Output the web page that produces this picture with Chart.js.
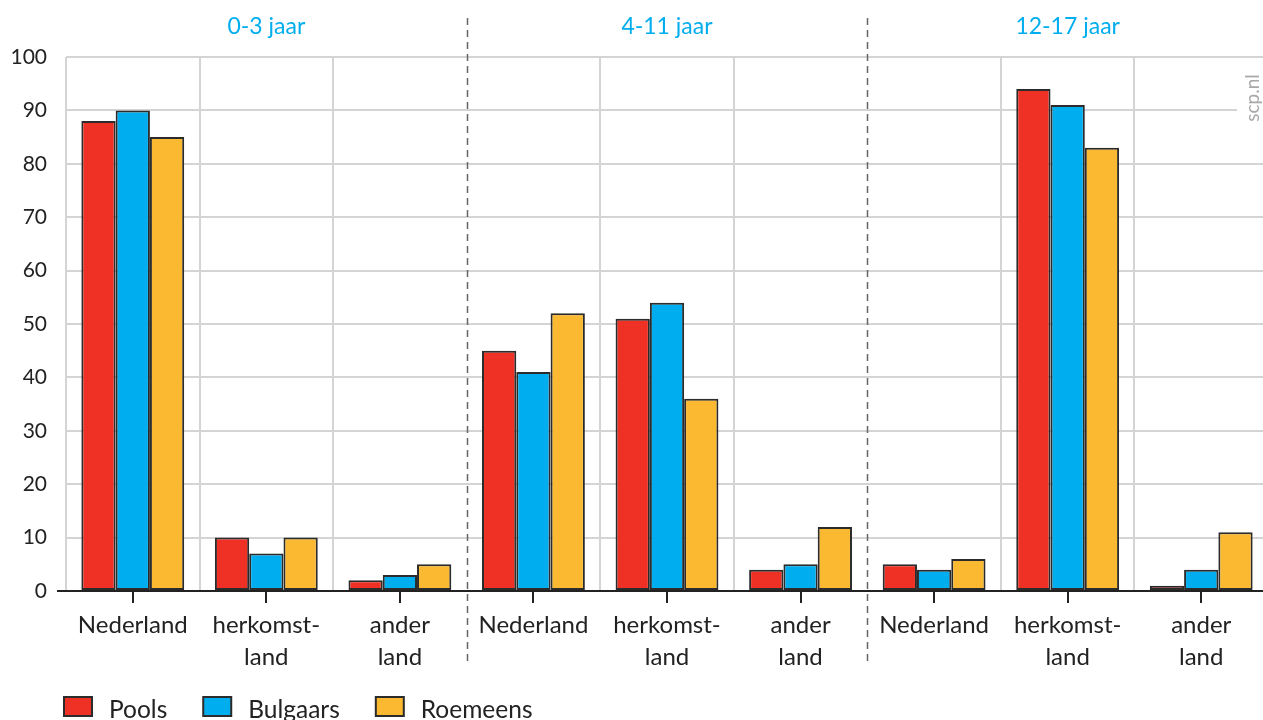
<!DOCTYPE html>
<html>
<head>
<meta charset="utf-8">
<script src="https://cdn.jsdelivr.net/npm/chart.js@4.4.1/dist/chart.umd.min.js"></script>
<style>
  html, body { margin: 0; padding: 0; background: #fff; overflow: hidden; }
  #wrap { width: 1272px; height: 720px; }
</style>
</head>
<body>
<div id="wrap"><canvas id="chart-canvas"></canvas></div>
<script>
const GROUPS = ["0-3 jaar", "4-11 jaar", "12-17 jaar"];
const LABELS = [
    "Nederland", ["herkomst-", "land"], ["ander", "land"],
    "Nederland", ["herkomst-", "land"], ["ander", "land"],
    "Nederland", ["herkomst-", "land"], ["ander", "land"]
];
const POOLS    = [88, 10, 2, 45, 51, 4, 5, 94, 1];
const BULGAARS = [90, 7, 3, 41, 54, 5, 4, 91, 4];
const ROEMEENS = [85, 10, 5, 52, 36, 12, 6, 83, 11];
const Y_TICKS  = [0, 10, 20, 30, 40, 50, 60, 70, 80, 90, 100];

const FONT = "Lato";
const TEXT = "#222222";
const GRID = "#d4d4d4";
const EDGE = "#2b2b2b";

// group titles, dashed separators, tick marks, axis line, legend and the scp.nl mark
const extras = {
    id: "extras",
    afterDraw(chart) {
        const c = chart.ctx;
        const x = chart.scales.x;
        const area = chart.chartArea;
        const per = LABELS.length / GROUPS.length;
        const half = (x.getPixelForValue(1) - x.getPixelForValue(0)) / 2;

        c.save();
        // axis line
        c.strokeStyle = TEXT;
        c.lineWidth = 2;
        c.beginPath();
        c.moveTo(area.left - 9, area.bottom);
        c.lineTo(area.right, area.bottom);
        c.stroke();

        // tick marks under each category
        for (let i = 0; i < LABELS.length; i++) {
            const px = Math.round(x.getPixelForValue(i));
            c.beginPath();
            c.moveTo(px, area.bottom);
            c.lineTo(px, area.bottom + 12);
            c.stroke();
        }

        // dashed separators between age groups
        c.strokeStyle = "#666";
        c.lineWidth = 1.5;
        c.setLineDash([7, 5]);
        for (let g = 1; g < GROUPS.length; g++) {
            const px = Math.round(x.getPixelForValue(g * per) - half) + 0.5;
            c.beginPath();
            c.moveTo(px, 18);
            c.lineTo(px, 666);
            c.stroke();
        }
        c.setLineDash([]);

        // group titles
        c.fillStyle = "#00aeef";
        c.font = "23px " + FONT;
        c.textAlign = "center";
        c.textBaseline = "middle";
        GROUPS.forEach(function (name, g) {
            const a = x.getPixelForValue(g * per) - half;
            const b = x.getPixelForValue(g * per + per - 1) + half;
            c.fillText(name, (a + b) / 2, 27);
        });

        // legend
        c.font = "24.5px " + FONT;
        c.textAlign = "left";
        c.textBaseline = "alphabetic";
        let lx = 64;
        chart.data.datasets.forEach(function (ds) {
            c.fillStyle = ds.backgroundColor;
            c.fillRect(lx, 697, 28, 19);
            c.strokeStyle = EDGE;
            c.lineWidth = 2;
            c.strokeRect(lx, 697, 28, 19);
            c.fillStyle = TEXT;
            c.fillText(ds.label, lx + 45, 718);
            lx += 45 + c.measureText(ds.label).width + 36;
        });

        // scp.nl
        c.fillStyle = "#fff";
        c.fillRect(1237, 64, 30, 70);
        c.translate(1253, 98);
        c.rotate(-Math.PI / 2);
        c.fillStyle = "#a8a8a8";
        c.font = "19px " + FONT;
        c.textAlign = "center";
        c.textBaseline = "middle";
        c.fillText("scp.nl", 0, 0);
        c.restore();
    }
};

const context = document.getElementById("chart-canvas").getContext("2d");
const chart = new Chart(context, {
    type: "bar",
    data: {
        labels: LABELS,
        datasets: [{
            label: "Pools",
            data: POOLS,
            backgroundColor: "#ee3124"
        }, {
            label: "Bulgaars",
            data: BULGAARS,
            backgroundColor: "#00aeef"
        }, {
            label: "Roemeens",
            data: ROEMEENS,
            backgroundColor: "#fbb931"
        }]
    },
    options: {
        responsive: true,
        maintainAspectRatio: false,
        animation: false,
        devicePixelRatio: 1,
        datasets: {
            bar: {
                borderColor: EDGE,
                borderWidth: 2,
                borderSkipped: false,
                categoryPercentage: 0.77,
                barPercentage: 1
            }
        },
        layout: {
            padding: {top: 57, left: 0, right: 4, bottom: 0}
        },
        scales: {
            x: {
                grid: {
                    offset: true,
                    drawTicks: false,
                    lineWidth: 2,
                    color: function (ctx) {
                        return (ctx.index === 3 || ctx.index === 6) ? "rgba(0,0,0,0)" : GRID;
                    }
                },
                border: {display: false},
                ticks: {
                    color: TEXT,
                    padding: 18,
                    maxRotation: 0,
                    autoSkip: false,
                    font: {family: FONT, size: 24, lineHeight: 1.33}
                },
                afterFit: function (scale) { scale.height = 129; }
            },
            y: {
                min: 0,
                max: 100,
                afterBuildTicks: function (scale) {
                    scale.ticks = Y_TICKS.map(function (v) { return {value: v}; });
                },
                grid: {
                    drawTicks: false,
                    lineWidth: 2,
                    color: function (ctx) {
                        return ctx.tick && ctx.tick.value === 0 ? "rgba(0,0,0,0)" : GRID;
                    }
                },
                border: {display: false},
                ticks: {
                    color: TEXT,
                    padding: 19,
                    font: {family: FONT, size: 21}
                },
                afterFit: function (scale) { scale.width = 66; }
            }
        },
        plugins: {
            tooltip: {enabled: false},
            legend: {display: false}
        }
    },
    plugins: [extras]
});
</script>
</body>
</html>
